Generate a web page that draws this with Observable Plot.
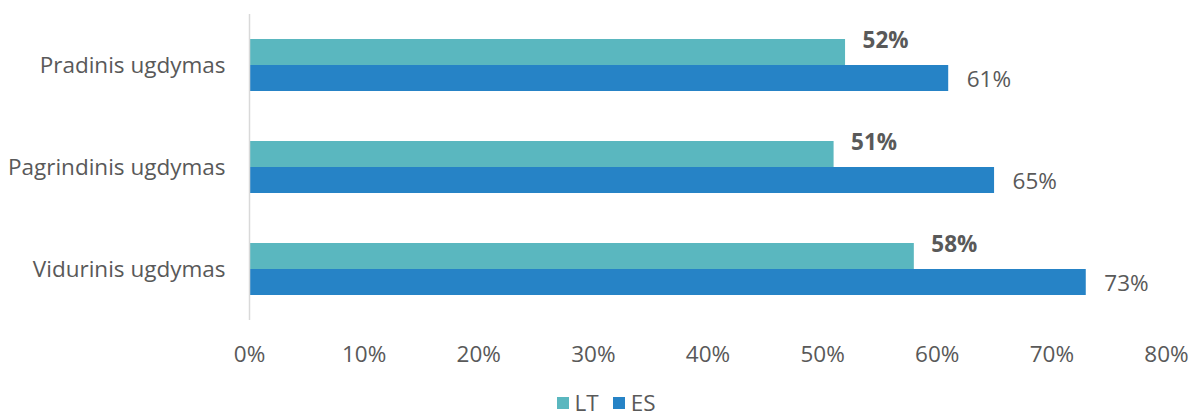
<!DOCTYPE html>
<html>
<head>
<meta charset="utf-8">
<script src="https://cdn.jsdelivr.net/npm/d3@7"></script>
<script src="https://cdn.jsdelivr.net/npm/@observablehq/plot@0.6"></script>
<style>
  html, body { margin: 0; padding: 0; background: #fff; }
  body { width: 1194px; height: 417px; overflow: hidden; font-family: "Open Sans", "Noto Sans", sans-serif; }
  #legend { display: flex; justify-content: center; align-items: center; gap: 14px; height: 24px; line-height: 24px; margin-top: 6px; font-size: 22.5px; color: #595959; padding-left: 18px; }
  .item { display: flex; align-items: center; gap: 6px; }
  .sw { width: 12px; height: 12px; display: inline-block; }
</style>
</head>
<body>
<div id="chart"></div>
<div id="legend"></div>
<script>
const categories = ["Pradinis ugdymas", "Pagrindinis ugdymas", "Vidurinis ugdymas"];
const seriesNames = ["LT", "ES"];
const ltValues = [0.52, 0.51, 0.58];
const esValues = [0.61, 0.65, 0.73];
const xTicks = [0, 0.1, 0.2, 0.3, 0.4, 0.5, 0.6, 0.7, 0.8];
const colors = ["#5ab7bf", "#2683c6"];

const rows = [];
categories.forEach((c, i) => {
  rows.push({cat: c, series: "LT", value: ltValues[i]});
  rows.push({cat: c, series: "ES", value: esValues[i]});
});
const pct = v => Math.round(v * 100) + "%";

const chart = Plot.plot({
  width: 1194,
  height: 385,
  marginLeft: 249,
  marginRight: 28,
  marginTop: 14,
  marginBottom: 65,
  style: {fontFamily: "'Open Sans', 'Noto Sans', sans-serif", fontSize: "22.5px", color: "#595959", background: "#fff"},
  x: {domain: [0, 0.8], ticks: xTicks, tickFormat: pct, tickSize: 0, tickPadding: 26, label: null, axis: "bottom"},
  fy: {domain: categories, padding: 0, label: null, axis: "left", tickSize: 0, tickPadding: 24},
  y: {domain: seriesNames, paddingInner: 0, paddingOuter: 0.93, axis: null},
  color: {domain: seriesNames, range: colors},
  marks: [
    Plot.barX(rows, {fy: "cat", y: "series", x: "value", fill: "series", inset: 0}),
    Plot.ruleX([0], {stroke: "#d9d9d9", strokeWidth: 1.5}),
    Plot.text(rows.filter(d => d.series === "LT"), {fy: "cat", y: "series", x: "value", text: d => pct(d.value), textAnchor: "start", dx: 17, dy: -12, fontWeight: "bold", fill: "#595959", fontSize: 22.5}),
    Plot.text(rows.filter(d => d.series === "ES"), {fy: "cat", y: "series", x: "value", text: d => pct(d.value), textAnchor: "start", dx: 18, dy: 1, fill: "#595959", fontSize: 22.5})
  ]
});
document.getElementById("chart").appendChild(chart);

const legend = document.getElementById("legend");
seriesNames.forEach((s, i) => {
  const item = document.createElement("span");
  item.className = "item";
  const sw = document.createElement("span");
  sw.className = "sw";
  sw.style.background = colors[i];
  const t = document.createElement("span");
  t.textContent = s;
  item.appendChild(sw); item.appendChild(t);
  legend.appendChild(item);
});
</script>
</body>
</html>
